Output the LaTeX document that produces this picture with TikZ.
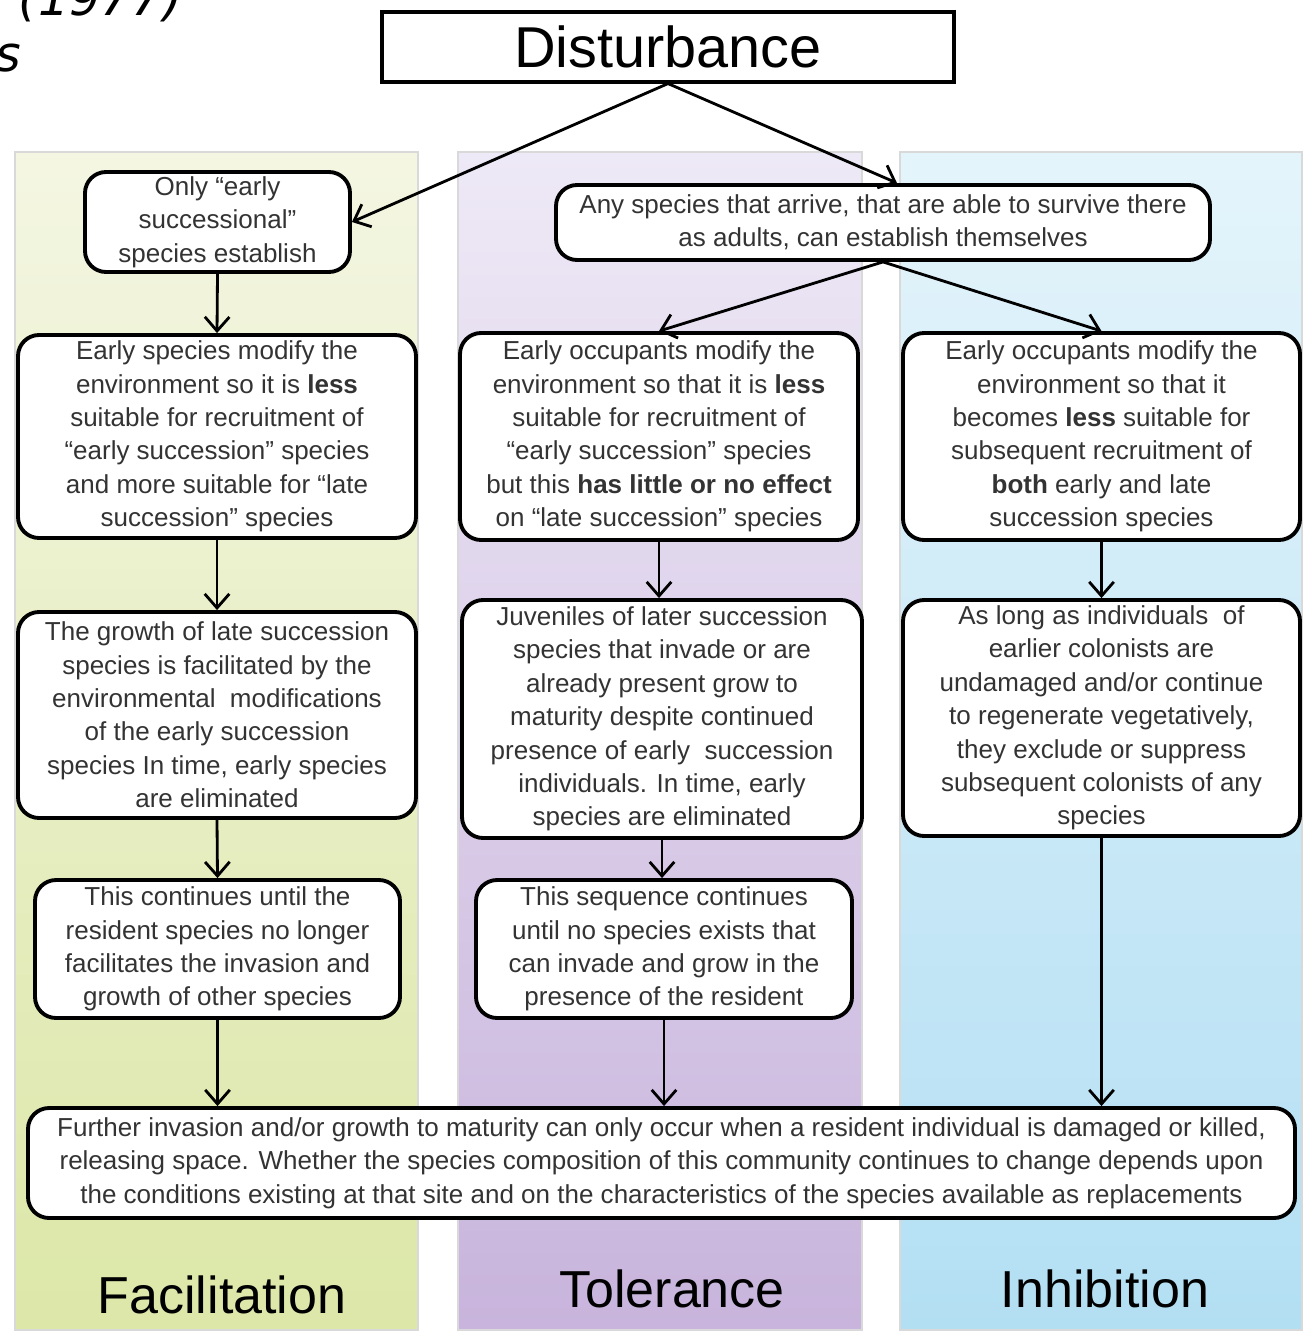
\documentclass[tikz,border=0pt]{standalone}
\usepackage{fontspec}
\setmainfont{Liberation Sans}
\newfontfamily\notefont{DejaVu Sans}
\usetikzlibrary{arrows.meta}

\definecolor{facTop}{HTML}{F4F6E2}
\definecolor{facBot}{HTML}{DCE7A8}
\definecolor{tolTop}{HTML}{EEE9F6}
\definecolor{tolBot}{HTML}{C8B4DC}
\definecolor{inhTop}{HTML}{E4F4FB}
\definecolor{inhBot}{HTML}{B3DFF3}
\definecolor{txt}{HTML}{333333}

\tikzset{
  box/.style={draw, fill=white, line width=1.1pt, rounded corners=6pt, align=center,
    inner sep=0pt, text=txt, font=\fontsize{7.4}{9.5}\selectfont},
  flow/.style={-{Straight Barb[length=4pt,width=7pt]}, line width=0.8pt},
  colhead/.style={anchor=base, font=\fontsize{14.8}{16}\selectfont},
  colband/.style={draw=black!15, line width=0.4pt},
}

\begin{document}
\begin{tikzpicture}
\useasboundingbox (0,0) rectangle (13.04,-13.34);
% three columns
\shadedraw[colband, top color=facTop, bottom color=facBot] (0.15,-1.52) rectangle (4.18,-13.30);
\shadedraw[colband, top color=tolTop, bottom color=tolBot] (4.58,-1.52) rectangle (8.62,-13.30);
\shadedraw[colband, top color=inhTop, bottom color=inhBot] (9.00,-1.52) rectangle (13.02,-13.30);

% cut-off title at the corner
\node[anchor=base east, font=\notefont\itshape\fontsize{14}{16}\selectfont] (cite) at (1.95,-0.16) {er (1977)};
\node[anchor=base east, font=\notefont\itshape\fontsize{14}{16}\selectfont] (ttl) at (0.34,-0.72) {ns};

\node[draw, line width=0.9pt, minimum width=5.72cm, minimum height=0.70cm, inner sep=0pt,
  font=\fontsize{16.4}{18}\selectfont] (dist) at (6.68,-0.47) {Disturbance};

\node[box, minimum width=2.65cm, minimum height=1.00cm] (only) at (2.175,-2.22)
  {Only ``early\\successional''\\species establish};
\node[box, minimum width=6.54cm, minimum height=0.75cm] (any) at (8.83,-2.225)
  {Any species that arrive, that are able to survive there\\as adults, can establish themselves};

\node[box, minimum width=3.98cm, minimum height=2.03cm] (facA) at (2.17,-4.365)
  {Early species modify the\\environment so it is \textbf{less}\\suitable for recruitment of\\
   ``early succession'' species\\and more suitable for ``late\\succession'' species};
\node[box, minimum width=3.98cm, minimum height=2.07cm] (tolA) at (6.59,-4.365)
  {Early occupants modify the\\environment so that it is \textbf{less}\\suitable for recruitment of\\
   ``early succession'' species\\but this \textbf{has little or no effect}\\on ``late succession'' species};
\node[box, minimum width=3.97cm, minimum height=2.07cm] (inhA) at (11.015,-4.365)
  {Early occupants modify the\\environment so that it\\becomes \textbf{less} suitable for\\
   subsequent recruitment of\\\textbf{both} early and late\\succession species};

\node[box, minimum width=3.98cm, minimum height=2.06cm] (facB) at (2.17,-7.15)
  {The growth of late succession\\species is facilitated by the\\environmental\ \ modifications\\
   of the early succession\\species In time, early species\\are eliminated};
\node[box, minimum width=4.00cm, minimum height=2.38cm] (tolB) at (6.62,-7.19)
  {Juveniles of later succession\\species that invade or are\\already present grow to\\
   maturity despite continued\\presence of early\ \ succession\\individuals. In time, early\\
   species are eliminated};
\node[box, minimum width=3.97cm, minimum height=2.36cm] (inhB) at (11.015,-7.18)
  {As long as individuals\ \ of\\earlier colonists are\\undamaged and/or continue\\
   to regenerate vegetatively,\\they exclude or suppress\\subsequent colonists of any\\species};

\node[box, minimum width=3.65cm, minimum height=1.38cm] (facC) at (2.175,-9.49)
  {This continues until the\\resident species no longer\\facilitates the invasion and\\growth of other species};
\node[box, minimum width=3.76cm, minimum height=1.38cm] (tolC) at (6.64,-9.49)
  {This sequence continues\\until no species exists that\\can invade and grow in the\\presence of the resident};

\node[box, minimum width=12.67cm, minimum height=1.10cm] (final) at (6.615,-11.63)
  {Further invasion and/or growth to maturity can only occur when a resident individual is damaged or killed,\\
   releasing space. Whether the species composition of this community continues to change depends upon\\
   the conditions existing at that site and on the characteristics of the species available as replacements};

\node[colhead] (fac) at (2.22,-13.13) {Facilitation};
\node[colhead] (tol) at (6.72,-13.07) {Tolerance};
\node[colhead] (inh) at (11.05,-13.07) {Inhibition};

\draw[flow] (dist.south) -- (only.east);
\draw[flow] (dist.south) -- ([xshift=0.14cm]any.north);
\draw[flow] (any.south) -- (tolA.north);
\draw[flow] (any.south) -- (inhA.north);
\draw[flow] (only.south) -- (facA.north);
\draw[flow] (facA.south) -- (facB.north);
\draw[flow] (facB.south) -- (facC.north);
\draw[flow] (tolA.south) -- (tolA.south |- tolB.north);
\draw[flow] (tolB.south) -- (tolB.south |- tolC.north);
\draw[flow] (inhA.south) -- (inhB.north);
\draw[flow] (facC.south) -- (facC.south |- final.north);
\draw[flow] (tolC.south) -- (tolC.south |- final.north);
\draw[flow] (inhB.south) -- (inhB.south |- final.north);
\end{tikzpicture}
\end{document}
